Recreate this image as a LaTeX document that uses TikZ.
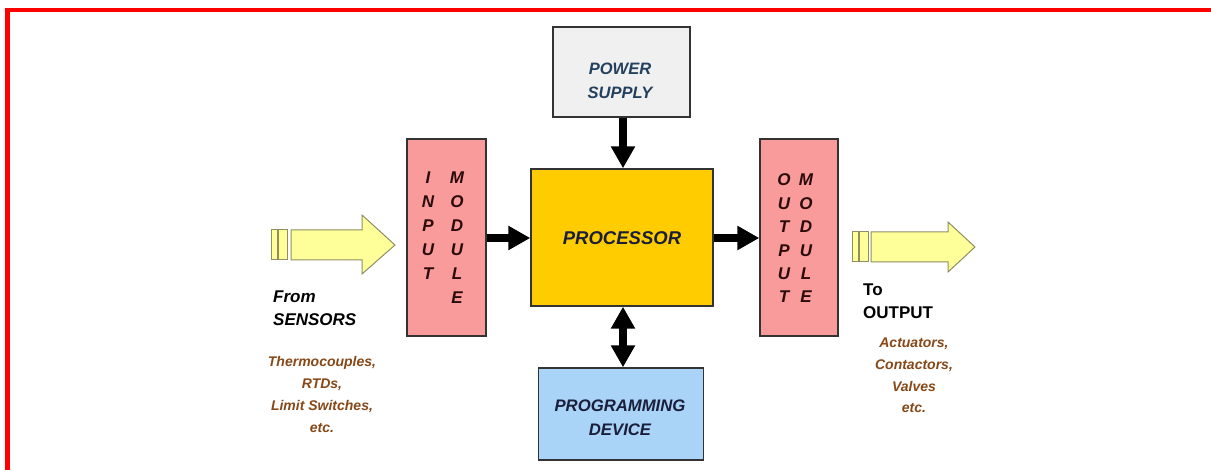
\documentclass[tikz,border=0pt]{standalone}
\usepackage{fontspec}
\setmainfont{Liberation Sans}
\usetikzlibrary{arrows.meta}
\definecolor{psfill}{HTML}{F0F0F0}
\definecolor{pstext}{HTML}{23405E}
\definecolor{procfill}{HTML}{FFCC00}
\definecolor{modfill}{HTML}{F99B9B}
\definecolor{modtext}{HTML}{2A0A0A}
\definecolor{pdfill}{HTML}{A9D3F7}
\definecolor{darktext}{HTML}{1A1E3A}
\definecolor{yarrow}{HTML}{FFFF99}
\definecolor{yarrowline}{HTML}{8E8E62}
\definecolor{brownt}{HTML}{874818}
\definecolor{boxline}{HTML}{333333}
\tikzset{
  blk/.style={draw=boxline, line width=1.4pt, inner sep=0pt},
  lbl/.style={font=\fontsize{17}{24}\selectfont\bfseries\itshape, align=center, inner sep=0pt},
  letters/.style={font=\fontsize{17}{24}\selectfont\bfseries\itshape, text=modtext, align=center, inner sep=0pt},
  brown/.style={font=\fontsize{14}{21.7}\selectfont\bfseries\itshape, text=brownt, align=center, inner sep=0pt},
  side/.style={font=\fontsize{17}{23}\selectfont\bfseries, align=left, inner sep=0pt, anchor=west},
  bigarrow/.style={line width=8.5pt, -{Triangle[width=23pt,length=22pt]}},
  fat/.style={fill=yarrow, draw=yarrowline, line width=1pt, line join=miter}
}
\begin{document}
\begin{tikzpicture}[x=1pt,y=-1pt]
\useasboundingbox (0,0) rectangle (1211,470);
\begin{scope}
\clip (0,0) rectangle (1211,470);
\fill[white] (0,0) rectangle (1211,470);
\draw[red, line width=4.6pt] (7.5,10) rectangle (1213,485);
\end{scope}

% blocks
\node[blk, fill=psfill, minimum width=137pt, minimum height=90pt] (ps) at (621.5,72) {};
\node[lbl, text=pstext, font=\fontsize{16.5}{24}\selectfont\bfseries\itshape] (pst) at (620,81) {POWER\\SUPPLY};
\node[blk, fill=procfill, minimum width=182pt, minimum height=137pt] (proc) at (622,237.5) {};
\node[lbl, text=darktext, font=\fontsize{18.5}{24}\selectfont\bfseries\itshape] (proct) at (622,238) {PROCESSOR};
\node[blk, fill=modfill, minimum width=79pt, minimum height=197pt] (in) at (446.5,237.5) {};
\node[letters] (inA) at (428,226) {I\\N\\P\\U\\T};
\node[letters] (inB) at (457,238) {M\\O\\D\\U\\L\\E};
\node[blk, fill=modfill, minimum width=78pt, minimum height=197pt] (out) at (799,237.5) {};
\node[letters, font=\fontsize{17}{23.4}\selectfont\bfseries\itshape] (outA) at (784,238.5) {O\\U\\T\\P\\U\\T};
\node[letters, font=\fontsize{17}{23.4}\selectfont\bfseries\itshape] (outB) at (806,238.5) {M\\O\\D\\U\\L\\E};
\node[blk, fill=pdfill, minimum width=165pt, minimum height=92pt] (pd) at (621,414) {};
\node[lbl, text=darktext, font=\fontsize{16.7}{24}\selectfont\bfseries\itshape] (pdt) at (620,418) {PROGRAMMING\\DEVICE};

% black arrows
\draw[bigarrow] (in.east |- 0,238) -- (proc.west |- 0,238);
\draw[bigarrow] (proc.east |- 0,238) -- (out.west |- 0,238);
\draw[bigarrow] (ps.south -| 623,0) -- (proc.north -| 623,0);
\draw[line width=8.5pt, {Triangle[width=23pt,length=22pt]}-{Triangle[width=23pt,length=22pt]}] (proc.south -| 623,0) -- (pd.north -| 623,0);

% yellow arrows
\coordinate (la) at (271,245);
\draw[fat] (271,230) rectangle (277,260);
\draw[fat] (278,230) rectangle (287,260);
\draw[fat] (291,230) -- (362,230) -- (362,215) -- (395,245) -- (362,274) -- (362,260) -- (291,260) -- cycle;
\coordinate (ra) at (852,247);
\draw[fat] (852,232) rectangle (858,262);
\draw[fat] (859,232) rectangle (868,262);
\draw[fat] (871,232) -- (948,232) -- (948,222) -- (975,247) -- (948,272) -- (948,262) -- (871,262) -- cycle;

% side labels
\node[side, font=\fontsize{17}{23}\selectfont\bfseries\itshape] (from) at (273,308.5) {From\\SENSORS};
\node[side] (to) at (863,301.5) {To\\OUTPUT};
\node[brown] (sens) at (322,394.5) {Thermocouples,\\RTDs,\\Limit Switches,\\etc.};
\node[brown] (acts) at (914,375.5) {Actuators,\\Contactors,\\Valves\\etc.};
\end{tikzpicture}
\end{document}
